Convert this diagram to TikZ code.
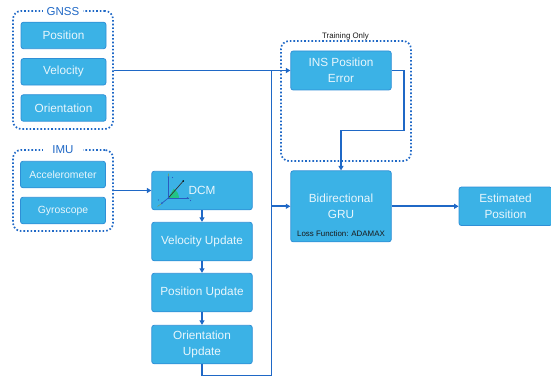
\documentclass[tikz,border=0pt]{standalone}
\usepackage{fontspec}
\setmainfont{Liberation Sans}
\usetikzlibrary{arrows.meta}
\definecolor{boxfill}{HTML}{3BB2E6}
\definecolor{boxline}{HTML}{2F8FD6}
\definecolor{wire}{HTML}{1F68C6}
\definecolor{tickblue}{HTML}{2A5BC0}
\definecolor{wedge}{HTML}{22C486}
\tikzset{
  bluebox/.style={draw=boxline,line width=0.8pt,fill=boxfill,rounded corners=2.5pt,text=white!88!boxfill,align=center,inner sep=0pt,font=\fontsize{11.8}{15.5}\selectfont},
  groupbox/.style={draw=wire,line width=1.7pt,rounded corners=8pt,dash pattern=on 1.6pt off 2pt,inner sep=0pt},
  grouplabel/.style={fill=white,text=wire,minimum width=40pt,inner xsep=0pt,inner ysep=1pt,font=\fontsize{11.5}{13}\selectfont},
  blacklabel/.style={font=\fontsize{7.9}{9}\selectfont,text=black!90,inner sep=0pt},
  wireline/.style={draw=wire,line width=1.7pt},
  wirearrow/.style={wireline,-{Triangle[length=4.5pt,width=5pt]}},
}
\begin{document}
\begin{tikzpicture}[x=1pt,y=1pt]
\useasboundingbox (0,0) rectangle (551,-377);
% groups
\node[groupbox,minimum width=100pt,minimum height=118pt] (gnss) at (63,-70) {};
\node[groupbox,minimum width=100pt,minimum height=81pt] (imu) at (63,-190.5) {};
\node[groupbox,minimum width=130pt,minimum height=120pt] (train) at (346,-101) {};
\node[grouplabel] (gnssl) at (63,-11.5) {GNSS};
\node[grouplabel] (imul) at (63,-150) {IMU};
\node[blacklabel] (trainl) at (345.5,-36) {Training Only};
% boxes
\node[bluebox,minimum width=85pt,minimum height=26.5pt] (pos) at (63.5,-35.5) {Position};
\node[bluebox,minimum width=85pt,minimum height=26.5pt] (vel) at (63.5,-71.8) {Velocity};
\node[bluebox,minimum width=85pt,minimum height=26.5pt] (ori) at (63.5,-108) {Orientation};
\node[bluebox,minimum width=85pt,minimum height=26.5pt,font=\fontsize{10.4}{12}\selectfont] (acc) at (63,-174.5) {Accelerometer};
\node[bluebox,minimum width=85pt,minimum height=26.5pt,font=\fontsize{10.4}{12}\selectfont] (gyr) at (63,-210.5) {Gyroscope};
\node[bluebox,minimum width=100.5pt,minimum height=38.5pt] (dcm) at (202,-190.5) {DCM};
\node[bluebox,minimum width=100.5pt,minimum height=38.5pt] (vu) at (202,-241.5) {Velocity Update};
\node[bluebox,minimum width=100.5pt,minimum height=38.5pt] (pu) at (202,-292.5) {Position Update};
\node[bluebox,minimum width=100.5pt,minimum height=38.5pt] (ou) at (202,-344.5) {Orientation\\Update};
\node[bluebox,minimum width=100.5pt,minimum height=39pt] (ins) at (341,-70.5) {INS Position\\Error};
\node[bluebox,minimum width=100.5pt,minimum height=71pt] (gru) at (341,-206.3) {};
\node[text=white!88!boxfill,align=center,inner sep=0pt,font=\fontsize{11.8}{15.5}\selectfont] (grut) at (341,-206.5) {Bidirectional\\GRU};
\node[blacklabel] (gruf) at (341,-233.5) {Loss Function: ADAMAX};
\node[bluebox,minimum width=93pt,minimum height=38.5pt] (est) at (505.5,-206.3) {Estimated\\Position};
% helper points
\coordinate (bustop) at (271.5,-70.5);
\coordinate (busbot) at (271.5,-375.5);
\coordinate (busgru) at (271.5,-206.3);
\coordinate (insr) at (404,-70.5);
\coordinate (insm) at (404,-130.5);
% connectors
\draw[wirearrow] (gnss.east |- ins.west) -- (ins.west);
\draw[wirearrow] (imu.east) -- (dcm.west);
\draw[wirearrow] (dcm.south) -- (vu.north);
\draw[wirearrow] (vu.south) -- (pu.north);
\draw[wirearrow] (pu.south) -- (ou.north);
\draw[wireline] (ou.south) |- (busbot) -- (bustop);
\draw[wirearrow] (busgru) -- (gru.west);
\draw[wirearrow] (ins.east) -- (insr) -- (insm) -| (gru.north);
\draw[wirearrow] (gru.east |- est.west) -- (est.west);
% DCM icon
\fill[wedge] (168.3,-198) -- (179,-198) arc (0:60:10.7) -- cycle;
\draw[black!80,line width=0.7pt] (168.3,-198) -- (183.3,-181);
\fill[black] (183.3,-181) circle (0.9pt);
\draw[tickblue,line width=0.7pt] (168.3,-176.5) -- (168.3,-198) -- (188.5,-198);
\draw[tickblue,line width=0.7pt] (168.3,-198) -- (161,-204);
\fill[tickblue] (168.3,-177) circle (0.8pt) (172.5,-177.5) circle (0.6pt) (187.5,-198) circle (0.8pt) (190.5,-200.5) circle (0.6pt) (162,-203) circle (0.8pt) (158.5,-200) circle (0.6pt);
\draw[olive!70!boxfill,line width=0.4pt] (168.3,-176) -- (168.3,-173.5) (188.5,-198) -- (192,-198) (161,-204) -- (157.5,-206.5);
\end{tikzpicture}
\end{document}
